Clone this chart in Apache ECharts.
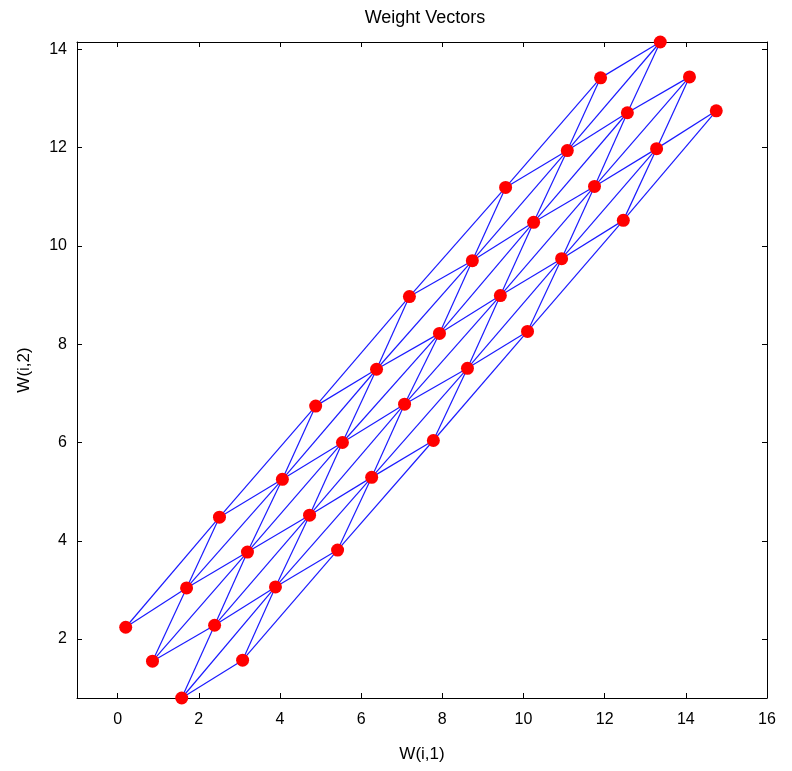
<!DOCTYPE html>
<html>
<head>
<meta charset="utf-8">
<script src="https://cdn.jsdelivr.net/npm/echarts@6/dist/echarts.min.js"></script>
<style>
html,body{margin:0;padding:0;background:#fff;}
#chart{width:792px;height:771px;}
</style>
</head>
<body>
<div id="chart"></div>
<script>
// SOM weight vectors, 6x6 hexagonal topology, ordered neuron by neuron (x fastest)
const weightsX = [
  0.20, 2.51, 4.88, 7.19, 9.56, 11.90,
  1.70, 4.06, 6.38, 8.74, 11.08, 13.37,
  0.86, 3.20, 5.54, 7.93, 10.25, 12.56,
  2.39, 4.73, 7.07, 9.43, 11.75, 14.09,
  1.58, 3.89, 6.26, 8.62, 10.94, 13.28,
  3.08, 5.42, 7.78, 10.10, 12.46, 14.75
];
const weightsY = [
  2.24, 4.48, 6.74, 8.97, 11.19, 13.42,
  3.04, 5.25, 7.49, 9.70, 11.94, 14.15,
  1.55, 3.77, 6.00, 8.22, 10.48, 12.71,
  2.28, 4.52, 6.78, 8.99, 11.21, 13.44,
  0.80, 3.06, 5.29, 7.51, 9.74, 11.98,
  1.57, 3.81, 6.04, 8.26, 10.52, 12.75
];
const gridCols = 6;
const gridRows = 6;
const xTicks = [0, 2, 4, 6, 8, 10, 12, 14, 16];
const yTicks = [2, 4, 6, 8, 10, 12, 14];
const titleText = 'Weight Vectors';
const xName = 'W(i,1)';
const yName = 'W(i,2)';

// hexagonal neighbour links (distance 1 in hextop)
const links = [];
for (let r = 0; r < gridRows; r++) {
  for (let c = 0; c < gridCols; c++) {
    const i = r * gridCols + c;
    if (c < gridCols - 1) links.push([i, i + 1]);
    if (r < gridRows - 1) {
      const cs = (r % 2 === 0) ? [c - 1, c] : [c, c + 1];
      cs.forEach(cc => {
        if (cc >= 0 && cc < gridCols) links.push([i, (r + 1) * gridCols + cc]);
      });
    }
  }
}
const lineData = links.map(([a, b]) => ({
  coords: [[weightsX[a], weightsY[a]], [weightsX[b], weightsY[b]]]
}));
const points = weightsX.map((x, i) => [x, weightsY[i]]);

const yMin = Math.min(...weightsY);
const yMax = Math.max(...weightsY);
const FONT = 'Liberation Sans';
const axisLine = { show: true, onZero: false, lineStyle: { color: '#000', width: 1 } };

const chart = echarts.init(document.getElementById('chart'), null, { renderer: 'canvas' });
chart.setOption({
  animation: false,
  backgroundColor: '#fff',
  title: {
    text: titleText, left: 420, top: 4, textAlign: 'center',
    textStyle: { fontFamily: FONT, fontSize: 18, fontWeight: 'normal', color: '#000' }
  },
  grid: { left: 77, top: 42, width: 690, height: 656, containLabel: false },
  xAxis: [{
    type: 'value', min: -1, max: 16, position: 'bottom',
    axisLine: axisLine,
    axisTick: { show: true, inside: true, length: 5, customValues: xTicks, lineStyle: { color: '#000' } },
    axisLabel: { customValues: xTicks, color: '#000', fontFamily: FONT, fontSize: 16, margin: 14 },
    splitLine: { show: false },
    name: xName, nameLocation: 'middle', nameGap: 48,
    nameTextStyle: { fontFamily: FONT, fontSize: 17, color: '#000' }
  }, {
    type: 'value', min: -1, max: 16, position: 'top',
    axisLine: axisLine,
    axisTick: { show: true, inside: true, length: 5, customValues: xTicks, lineStyle: { color: '#000' } },
    axisLabel: { show: false },
    splitLine: { show: false }
  }],
  yAxis: [{
    type: 'value', min: yMin, max: yMax, position: 'left',
    axisLine: axisLine,
    axisTick: { show: true, inside: true, length: 5, customValues: yTicks, lineStyle: { color: '#000' } },
    axisLabel: { customValues: yTicks, color: '#000', fontFamily: FONT, fontSize: 16, margin: 10 },
    splitLine: { show: false },
    name: yName, nameLocation: 'middle', nameGap: 44, nameRotate: 90,
    nameTextStyle: { fontFamily: FONT, fontSize: 17, color: '#000' }
  }, {
    type: 'value', min: yMin, max: yMax, position: 'right',
    axisLine: axisLine,
    axisTick: { show: true, inside: true, length: 5, customValues: yTicks, lineStyle: { color: '#000' } },
    axisLabel: { show: false },
    splitLine: { show: false }
  }],
  series: [{
    type: 'lines',
    coordinateSystem: 'cartesian2d',
    xAxisIndex: 0, yAxisIndex: 0,
    polyline: false,
    silent: true,
    lineStyle: { color: '#1a1aff', width: 1.2, opacity: 1 },
    data: lineData,
    z: 2
  }, {
    type: 'scatter',
    xAxisIndex: 0, yAxisIndex: 0,
    symbol: 'circle', symbolSize: 13,
    itemStyle: { color: '#ff0000', opacity: 1 },
    clip: false,
    silent: true,
    data: points,
    z: 3
  }]
});
</script>
</body>
</html>
